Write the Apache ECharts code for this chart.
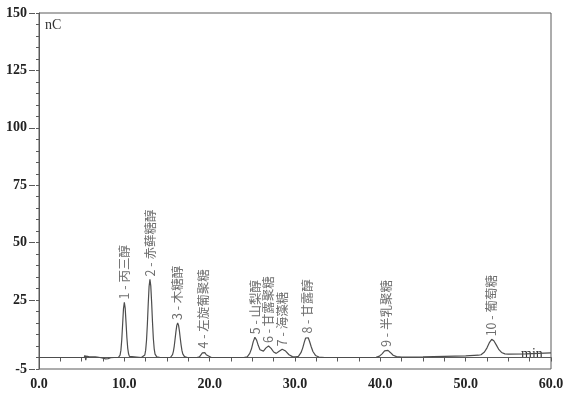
<!DOCTYPE html>
<html>
<head>
<meta charset="utf-8">
<script src="https://cdn.jsdelivr.net/npm/echarts@6/dist/echarts.min.js"></script>
<style>html,body{margin:0;padding:0;background:#fff}#c{width:573px;height:396px}</style>
</head>
<body>
<div id="c"></div>
<script>
// Chromatogram trace: [time (min), signal (nC)]
var trace = [
  [0,0],[5.3,0],[5.4,1.0],[5.48,-1.2],[5.56,0.6],[5.7,0.1],[5.9,0.3],[6.1,0.7],[6.3,0.3],[6.6,0.3],[7.0,0.1],[7.4,-0.2],[7.8,-0.6],[8.1,-0.5],[8.4,-0.1],[8.8,0],[9.3,0],
  [9.4,0.3],[9.5,1.0],[9.6,3.2],[9.7,7.8],[9.8,14.5],[9.9,21.2],[10.0,24],[10.1,21.5],[10.2,15.2],[10.3,8.6],[10.4,4.0],[10.5,1.5],[10.6,0.5],[10.8,0.1],[12.0,0],
  [12.2,0.1],[12.4,1.1],[12.5,3.2],[12.6,7.5],[12.7,14.5],[12.8,23.3],[12.9,30.9],[13.0,34],[13.1,31.2],[13.2,24],[13.3,15.5],[13.4,8.3],[13.5,3.8],[13.6,1.5],[13.8,0.3],[14.2,0],
  [15.4,0],[15.65,1.3],[15.75,2.7],[15.85,5],[15.95,8.1],[16.05,11.4],[16.15,14],[16.25,15],[16.35,14.1],[16.45,11.7],[16.55,8.5],[16.65,5.5],[16.75,3.1],[16.85,1.6],[17.05,0.4],[17.4,0],
  [18.5,0],[18.8,0.3],[19.0,1.1],[19.15,2.0],[19.3,2.6],[19.45,2.1],[19.6,1.2],[19.8,0.4],[20.2,0],
  [24.0,0],[24.4,0.3],[24.7,1.8],[24.9,3.8],[25.1,6.8],[25.3,8.8],[25.5,7.6],[25.7,5.2],[25.9,3.4],[26.1,2.6],[26.3,2.8],[26.6,4.2],[26.9,5.0],[27.2,4.0],[27.5,2.4],[27.8,1.8],[28.1,2.6],[28.5,3.6],[28.9,2.8],[29.3,1.2],[29.7,0.4],[30.1,0.3],
  [30.4,0.5],[30.7,2.1],[30.9,4.1],[31.1,6.8],[31.25,8.5],[31.4,9.1],[31.55,8.6],[31.7,7.1],[31.9,4.7],[32.1,2.6],[32.4,0.9],[32.8,0.2],[33.5,0],
  [39.5,0.1],[39.9,0.6],[40.2,1.6],[40.5,2.9],[40.7,3.3],[40.9,3.1],[41.2,2.1],[41.5,1.0],[41.9,0.4],[42.5,0.2],
  [45,0.3],[50,0.7],[51.5,1.0],[51.8,1.2],[52.2,2.4],[52.5,4.2],[52.8,6.6],[53.05,7.9],[53.3,7.3],[53.6,5.4],[53.9,3.4],[54.2,2.2],[54.6,1.6],[55.0,1.5],[57,1.6],[60,2.0]
];
// Peak annotations
var peakTimes   = [10.0, 13.0, 16.25, 19.3, 25.3, 26.9, 28.5, 31.4, 40.7, 53.05];
var peakHeights = [24, 34, 15, 2.6, 8.8, 5.0, 3.6, 9.1, 3.3, 7.9];
var peakNames   = ['1 - 丙三醇','2 - 赤藓糖醇','3 - 木糖醇','4 - 左旋葡聚糖','5 - 山梨醇','6 - 甘露聚糖','7 - 海藻糖','8 - 甘露醇','9 - 半乳聚糖','10 - 葡萄糖'];
// Axis ticks
var yLabelValues = [-5, 25, 50, 75, 100, 125, 150];
var xLabelValues = [0, 10, 20, 30, 40, 50, 60];

var peaks = peakTimes.map(function (t, i) { return { value: [t, peakHeights[i]], name: peakNames[i] }; });
var serif = '"Liberation Serif","Times New Roman",serif';

var chart = echarts.init(document.getElementById('c'), null, { renderer: 'canvas' });
chart.setOption({
  animation: false,
  backgroundColor: '#fff',
  grid: { left: 39, right: 22, top: 13, bottom: 27, show: true, borderColor: '#5a5a5a', borderWidth: 1 },
  xAxis: {
    type: 'value', min: 0, max: 60, interval: 2.5, offset: 4,
    axisLine: { show: true, lineStyle: { color: '#5a5a5a', width: 1 } },
    axisTick: { show: true, length: 4, lineStyle: { color: '#5a5a5a' } },
    axisLabel: {
      margin: 4, color: '#222', fontFamily: serif, fontWeight: 'bold', fontSize: 14,
      formatter: function (v) { return xLabelValues.indexOf(v) >= 0 ? v.toFixed(1) : ''; }
    },
    splitLine: { show: false }
  },
  yAxis: [{
    type: 'value', min: -5, max: 150, interval: 5, offset: 4,
    axisLine: { show: true, lineStyle: { color: '#5a5a5a', width: 1 } },
    axisTick: { show: true, length: 3, lineStyle: { color: '#5a5a5a' } },
    axisLabel: { show: false },
    splitLine: { show: false }
  }, {
    type: 'value', min: -5, max: 150, offset: 4, position: 'left',
    axisLine: { show: false },
    axisTick: { show: true, length: 6, customValues: yLabelValues, lineStyle: { color: '#5a5a5a' } },
    axisLabel: { show: true, customValues: yLabelValues, margin: 8, color: '#222', fontFamily: serif, fontWeight: 'bold', fontSize: 14 },
    splitLine: { show: false }
  }],
  graphic: [
    { type: 'text', left: 45, top: 18, style: { text: 'nC', font: '14px ' + serif, fill: '#333' } },
    { type: 'text', left: 521, top: 347, style: { text: 'min', font: '14px ' + serif, fill: '#333' } }
  ],
  series: [{
    type: 'line', data: trace, showSymbol: false, symbol: 'none',
    lineStyle: { color: '#4d4d4d', width: 1.2 }, z: 3
  }, {
    type: 'scatter', data: peaks, symbolSize: 0, z: 4,
    label: {
      show: true, position: 'top', distance: 3, rotate: 90, align: 'left', verticalAlign: 'middle',
      formatter: '{b}', color: '#4a4a4a', fontSize: 12.5,
      fontFamily: '"Noto Sans CJK SC","Liberation Serif",serif'
    }
  }]
});
</script>
</body>
</html>
